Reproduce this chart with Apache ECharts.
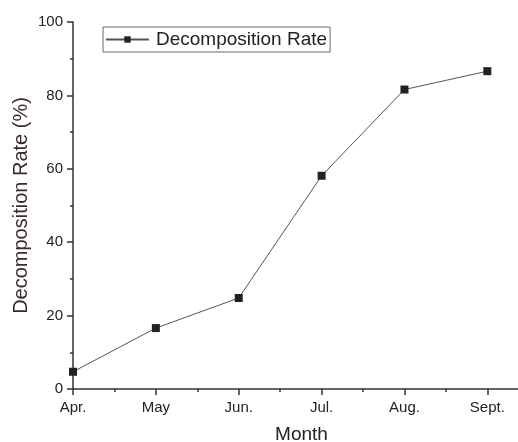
<!DOCTYPE html>
<html>
<head>
<meta charset="utf-8">
<script src="https://cdn.jsdelivr.net/npm/echarts@6/dist/echarts.min.js"></script>
<style>html,body{margin:0;padding:0;background:#fff}#c{width:518px;height:442px}</style>
</head>
<body>
<div id="c"></div>
<script>
const months = ['Apr.', 'May', 'Jun.', 'Jul.', 'Aug.', 'Sept.'];
const rates = [4.7, 16.6, 24.8, 58.1, 81.6, 86.6];
const seriesName = 'Decomposition Rate';
const xTitle = 'Month';
const yTitle = 'Decomposition Rate (%)';

const majorX = months.map((m, i) => i);
const minorX = months.slice(1).map((m, i) => i + 0.5);
const FONT = '"Liberation Sans", Arial, sans-serif';

const chart = echarts.init(document.getElementById('c'), null, {renderer: 'canvas'});
chart.setOption({
  backgroundColor: '#fff',
  animation: false,
  textStyle: {fontFamily: FONT},
  grid: {left: 73, right: 0, top: 22, bottom: 53, containLabel: false, outerBoundsMode: 'none'},
  legend: {
    left: 103, top: 27,
    itemWidth: 43, itemHeight: 8, itemGap: 8,
    padding: [3, 3, 3, 2],
    borderColor: '#666', borderWidth: 1,
    textStyle: {fontSize: 19, color: '#222', fontFamily: FONT, padding: [0, 0, 0, 2]},
    data: [seriesName]
  },
  xAxis: [{
    type: 'value', min: 0, max: 5.37, interval: 1,
    name: xTitle, nameLocation: 'middle', nameGap: 36, nameMoveOverlap: false,
    nameTextStyle: {fontSize: 19, color: '#222', fontFamily: FONT, padding: [0, 0, 0, 12]},
    axisLine: {show: true, onZero: false, lineStyle: {color: '#333', width: 1.5}},
    axisTick: {show: true, inside: false, length: 6, customValues: majorX, lineStyle: {color: '#333', width: 1.5}},
    axisLabel: {customValues: majorX, formatter: v => months[Math.round(v)] || '', fontSize: 15, color: '#222', margin: 11},
    splitLine: {show: false}
  }, {
    type: 'value', min: 0, max: 5.37, position: 'bottom',
    axisLine: {show: false},
    axisTick: {show: true, inside: false, length: 3, customValues: minorX, lineStyle: {color: '#333', width: 1.5}},
    axisLabel: {show: false},
    splitLine: {show: false}
  }],
  yAxis: {
    type: 'value', min: 0, max: 100, interval: 20,
    name: yTitle, nameLocation: 'middle', nameGap: 42, nameRotate: 90, nameMoveOverlap: false,
    nameTextStyle: {fontSize: 20, color: '#3a2b2b', fontFamily: FONT},
    axisLine: {show: true, onZero: false, lineStyle: {color: '#333', width: 1.5}},
    axisTick: {show: true, inside: false, length: 6, lineStyle: {color: '#333', width: 1.5}},
    minorTick: {show: true, splitNumber: 2, length: 3, lineStyle: {color: '#333', width: 1.5}},
    axisLabel: {fontSize: 15, color: '#222', margin: 10},
    splitLine: {show: false}
  },
  series: [{
    name: seriesName,
    type: 'line',
    xAxisIndex: 0,
    data: rates.map((v, i) => [i, v]),
    symbol: 'rect', symbolSize: 8,
    itemStyle: {color: '#222'},
    lineStyle: {color: '#555', width: 1},
    clip: false
  }]
});
</script>
</body>
</html>
